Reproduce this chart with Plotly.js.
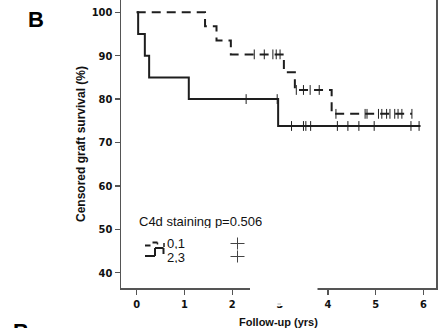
<!DOCTYPE html>
<html>
<head>
<meta charset="utf-8">
<script src="https://cdn.plot.ly/plotly-3.0.1.min.js"></script>
<style>html,body{margin:0;padding:0;background:#fff;}#chart{width:442px;height:328px;}</style>
</head>
<body>
<div id="chart"></div>
<script>
// Group C4d 0,1 (dashed): Kaplan-Meier step points
var g01Time = [0, 1.43, 1.67, 1.97, 3.08, 3.31, 4.08, 5.76];
var g01Surv = [100, 96.8, 93.5, 90.3, 86.2, 82.1, 76.6, 76.6];
var g01CensTime = [2.46, 2.67, 2.85, 2.92, 3.0, 3.34, 3.49, 3.63, 3.82, 4.17, 4.78, 4.82, 5.06, 5.13, 5.23, 5.30, 5.40, 5.47, 5.55, 5.76];
// Group C4d 2,3 (solid)
var g23Time = [0, 0.03, 0.17, 0.26, 1.09, 2.96, 5.94];
var g23Surv = [100, 95, 90, 85, 80, 73.8, 73.8];
var g23CensTime = [2.29, 2.94, 3.24, 3.49, 3.54, 3.64, 4.20, 4.42, 4.65, 4.97, 5.74, 5.91];

var xTicks = [0, 1, 2, 3, 4, 5, 6];
var yTicks = [40, 50, 60, 70, 80, 90, 100];
var legendTitle = "C4d staining p=0.506";
var groupLabels = ["0,1", "2,3"];

function stepLookup(times, surv, t) {
  var v = surv[0];
  for (var i = 0; i < times.length; i++) { if (times[i] <= t) v = surv[i]; }
  return v;
}

var lineCol = "#1e1e1e";
var traces = [
  {x: g01Time, y: g01Surv, mode: "lines", line: {shape: "hv", color: lineCol, width: 2, dash: "9px,6px"}, hoverinfo: "skip"},
  {x: g23Time, y: g23Surv, mode: "lines", line: {shape: "hv", color: lineCol, width: 2}, hoverinfo: "skip"},
  {x: g01CensTime, y: g01CensTime.map(function(t){return stepLookup(g01Time, g01Surv, t);}), mode: "markers",
   marker: {symbol: "line-ns", size: 7, line: {width: 1, color: lineCol}}, hoverinfo: "skip"},
  {x: g23CensTime, y: g23CensTime.map(function(t){return stepLookup(g23Time, g23Surv, t);}), mode: "markers",
   marker: {symbol: "line-ns", size: 7, line: {width: 1, color: lineCol}}, hoverinfo: "skip"}
];

// pixel -> paper helpers (plot area: x 121..436, y 0..288)
var L = 121, R = 436, T = 0, B = 288;
function pxX(p) { return (p - L) / (R - L); }
function pxY(p) { return (B - p) / (B - T); }
function seg(x0, y0, x1, y1, w, c) {
  return {type: "line", xref: "paper", yref: "paper", x0: pxX(x0), y0: pxY(y0), x1: pxX(x1), y1: pxY(y1),
          line: {color: c || lineCol, width: w || 2}, layer: "above"};
}

var shapes = [
  // legend icon dashed
  seg(145, 245.5, 150.5, 245.5, 2),
  seg(152.5, 242.5, 157.5, 242.5, 2),
  seg(157.5, 242.5, 157.5, 244.5, 1.5),
  seg(164, 243, 164, 247, 1.5),
  // legend icon solid
  seg(145, 256, 155, 256, 2),
  seg(155, 256, 155, 248, 2),
  seg(155, 248, 163.5, 248, 2),
  seg(163.5, 248, 163.5, 254, 2),
  // legend plus markers
  seg(230.5, 243.5, 244.5, 243.5, 1, "#444"),
  seg(237.5, 237.5, 237.5, 249.5, 1, "#444"),
  seg(230.5, 256.5, 244.5, 256.5, 1, "#444"),
  seg(237.5, 250.5, 237.5, 262.5, 1, "#444"),
  // white gap over x-axis
  {type: "rect", xref: "paper", yref: "paper", x0: pxX(250), x1: pxX(317.5), y0: pxY(306), y1: pxY(283),
   fillcolor: "#ffffff", line: {width: 0}, layer: "above"},
  seg(277.5, 304, 281, 304, 1.5, "#c8c8c8")
];

var txtFont = {family: "Liberation Sans, Arial, sans-serif", size: 13, color: "#111"};
var annotations = [
  {text: legendTitle, xref: "paper", yref: "paper", x: pxX(137), y: pxY(221), xanchor: "left", yanchor: "middle",
   showarrow: false, font: txtFont, height: 14},
  {text: groupLabels[0], xref: "paper", yref: "paper", x: pxX(165), y: pxY(243), xanchor: "left", yanchor: "middle",
   showarrow: false, font: txtFont, height: 12},
  {text: groupLabels[1], xref: "paper", yref: "paper", x: pxX(165), y: pxY(256.5), xanchor: "left", yanchor: "middle",
   showarrow: false, font: txtFont, height: 12},
  {text: "<b>B</b>", xref: "paper", yref: "paper", x: pxX(26), y: pxY(20), xanchor: "left", yanchor: "middle",
   showarrow: false, font: {family: "Liberation Sans, Arial, sans-serif", size: 22, color: "#000"}},
  {text: "<b>B</b>", xref: "paper", yref: "paper", x: pxX(11), y: pxY(331), xanchor: "left", yanchor: "middle",
   showarrow: false, font: {family: "Liberation Sans, Arial, sans-serif", size: 22, color: "#000"}}
];

var tickFont = {family: "Liberation Sans Narrow, DejaVu Sans Condensed, Arial Narrow, sans-serif", size: 11, color: "#111", weight: "bold"};
var layout = {
  width: 442, height: 328,
  margin: {l: L, r: 442 - R, t: T, b: 328 - B, pad: 0},
  paper_bgcolor: "#fff", plot_bgcolor: "#fff",
  showlegend: false,
  xaxis: {range: [-0.329, 6.264], tickvals: xTicks, ticktext: xTicks.map(String), ticks: "outside", ticklen: 5,
          tickwidth: 1.5, tickcolor: "#555", showline: true, linecolor: "#555", linewidth: 1.5, mirror: false,
          showgrid: false, zeroline: false, tickfont: tickFont,
          title: {text: "<b>Follow-up (yrs)</b>", standoff: 12, font: {family: "Liberation Sans, Arial, sans-serif", size: 11, color: "#111"}}},
  yaxis: {range: [36.47, 102.83], tickvals: yTicks, ticktext: yTicks.map(String), ticks: "outside", ticklen: 5,
          tickwidth: 1.5, tickcolor: "#555", showline: true, linecolor: "#555", linewidth: 1.5, mirror: true,
          showgrid: false, zeroline: false, tickfont: tickFont,
          title: {text: "<b>Censored graft survival (%)</b>", standoff: 3, font: {family: "Liberation Sans, Arial, sans-serif", size: 12, color: "#111"}}},
  shapes: shapes,
  annotations: annotations
};

Plotly.newPlot("chart", traces, layout, {staticPlot: true, displayModeBar: false});
</script>
</body>
</html>
